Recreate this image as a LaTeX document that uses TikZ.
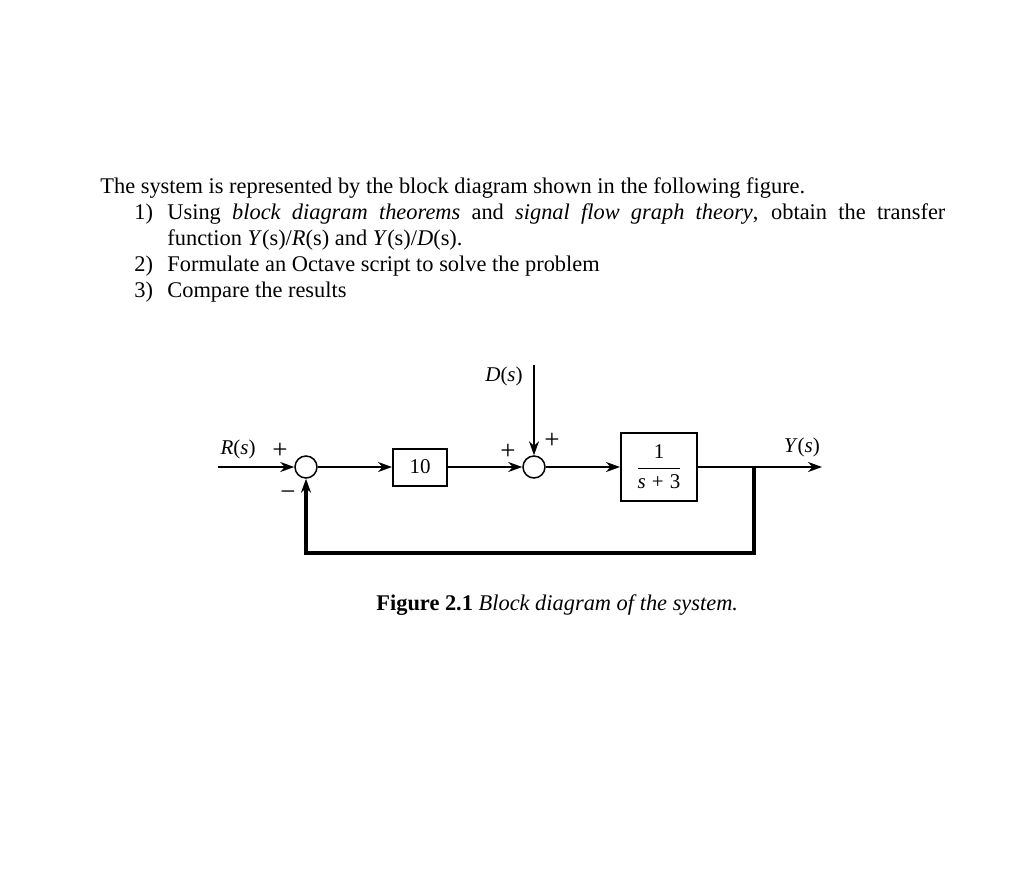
\documentclass[tikz,border=0pt]{standalone}
\usepackage{fontspec}
\setmainfont{Liberation Serif}
\usetikzlibrary{arrows.meta}
\begin{document}
\begin{tikzpicture}[x=0.5pt,y=-0.5pt,
  body/.style={anchor=base west, inner sep=0pt, font=\fontsize{11.2}{13}\selectfont},
  lbl/.style={inner sep=0pt, font=\fontsize{10.5}{12}\selectfont},
  sgn/.style={inner sep=0pt, font=\fontsize{13.5}{14}\selectfont},
  blk/.style={draw, line width=1pt, inner sep=0pt, font=\fontsize{10.5}{12}\selectfont},
  sumj/.style={draw, circle, line width=0.75pt, minimum size=11pt, inner sep=0pt},
  sig/.style={line width=1pt, -{Stealth[length=7pt,width=5pt]}},
  fb/.style={line width=1.7pt, -{Stealth[length=7pt,width=5pt]}}]
\fill[white] (0,0) rectangle (1024,891);
\useasboundingbox (0,0) rectangle (1024,891);
% text
\node[body] (t1) at (100,193) {The system is represented by the block diagram shown in the following figure.};
\node[body] (n1) at (134,219) {1)};
\node[body] (t2) at (167,219) {\makebox[389pt][s]{Using \textit{block diagram theorems} and \textit{signal flow graph theory}, obtain the transfer}};
\node[body] (t3) at (167,245) {function \textit{Y}(s)/\textit{R}(s) and \textit{Y}(s)/\textit{D}(s).};
\node[body] (n2) at (134,271) {2)};
\node[body] (t4) at (167,271) {Formulate an Octave script to solve the problem};
\node[body] (n3) at (134,297) {3)};
\node[body] (t5) at (167,297) {Compare the results};
% diagram
\node[sumj] (s1) at (306,467) {};
\node[sumj] (s2) at (534,467) {};
\node[blk, minimum width=27pt, minimum height=18.5pt] (g1) at (420,467) {10};
\node[blk, minimum width=38pt, minimum height=34pt] (g2) at (659,467) {$\displaystyle\frac{\textrm{1}}{\textit{s}\;\textrm{+}\;\textrm{3}}$};
\coordinate (rin) at (218,467);
\coordinate (dtop) at (534,365);
\coordinate (yout) at (822,467);
\coordinate (br) at (754,467);
\coordinate (bl) at (754,553);
\draw[sig] (rin) -- (s1.west);
\draw[sig] (s1.east) -- (g1.west);
\draw[sig] (g1.east) -- (s2.west);
\draw[sig] (dtop) -- (s2.north);
\draw[sig] (s2.east) -- (g2.west);
\draw[sig] (g2.east) -- (yout);
\draw[fb] (br) -- (bl) -| (s1.south);
% labels
\node[lbl] (lr) at (238,449) {\textit{R}(\textit{s})};
\node[sgn] (p1) at (280,451) {+};
\node[sgn] (m1) at (288,496) {−};
\node[lbl] (ld) at (504,376) {\textit{D}(\textit{s})};
\node[sgn] (p2) at (508,452) {+};
\node[sgn] (p3) at (552,441) {+};
\node[lbl] (ly) at (802,447) {\textit{Y}(\textit{s})};
\node[body] (cap) at (376,610) {\textbf{Figure 2.1} \textit{Block diagram of the system.}};
\end{tikzpicture}
\end{document}
